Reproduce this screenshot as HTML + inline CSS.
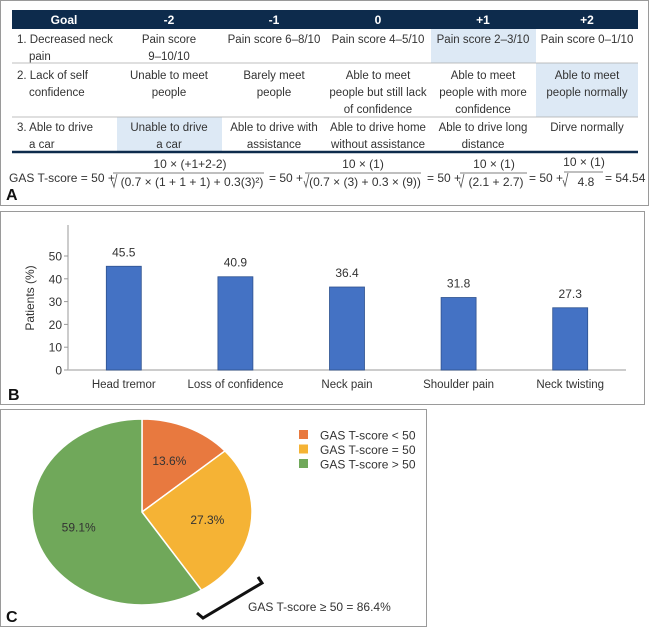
<!DOCTYPE html>
<html><head><meta charset="utf-8"><style>
html,body{margin:0;padding:0;background:#fff;}
svg{display:block;font-family:"Liberation Sans",Arial,sans-serif;}
</style></head><body>
<svg id="fig" width="650" height="627" viewBox="0 0 650 627">
<!-- Panel A -->
<g>
<rect x="0.5" y="0.5" width="648" height="205" fill="#fff" stroke="#9a9a9a"/>
<rect x="12" y="10" width="626" height="19" fill="#0d2b4c"/>
<g font-size="12" font-weight="bold" fill="#fff" text-anchor="middle">
<text x="64" y="24">Goal</text><text x="169" y="24">-2</text><text x="274" y="24">-1</text><text x="378" y="24">0</text><text x="483" y="24">+1</text><text x="587" y="24">+2</text>
</g>
<rect x="431" y="29" width="105" height="34" fill="#dde9f5"/>
<rect x="536" y="63" width="102" height="54" fill="#dde9f5"/>
<rect x="117" y="117" width="105" height="35" fill="#dde9f5"/>
<line x1="12" y1="63" x2="638" y2="63" stroke="#aaa" stroke-width="0.8"/>
<line x1="12" y1="117" x2="638" y2="117" stroke="#aaa" stroke-width="0.8"/>
<line x1="12" y1="152" x2="638" y2="152" stroke="#0d2b4c" stroke-width="2.5"/>
<g font-size="11.5" fill="#333">
<text x="17" y="43">1. Decreased neck</text><text x="29" y="60">pain</text>
<text x="17" y="79">2. Lack of self</text><text x="29" y="96">confidence</text>
<text x="17" y="131">3. Able to drive</text><text x="29" y="148">a car</text>
<g text-anchor="middle">
<text x="169" y="43">Pain score</text><text x="169" y="60">9–10/10</text>
<text x="274" y="43">Pain score 6–8/10</text>
<text x="378" y="43">Pain score 4–5/10</text>
<text x="483" y="43">Pain score 2–3/10</text>
<text x="587" y="43">Pain score 0–1/10</text>
<text x="169" y="79">Unable to meet</text><text x="169" y="96">people</text>
<text x="274" y="79">Barely meet</text><text x="274" y="96">people</text>
<text x="378" y="79">Able to meet</text><text x="378" y="96">people but still lack</text><text x="378" y="113">of confidence</text>
<text x="483" y="79">Able to meet</text><text x="483" y="96">people with more</text><text x="483" y="113">confidence</text>
<text x="587" y="79">Able to meet</text><text x="587" y="96">people normally</text>
<text x="169" y="131">Unable to drive</text><text x="169" y="148">a car</text>
<text x="274" y="131">Able to drive with</text><text x="274" y="148">assistance</text>
<text x="378" y="131">Able to drive home</text><text x="378" y="148">without assistance</text>
<text x="483" y="131">Able to drive long</text><text x="483" y="148">distance</text>
<text x="587" y="131">Dirve normally</text>
</g></g>
<g font-size="12" fill="#333">
<text x="9" y="182">GAS T-score = 50 +</text>
<text x="190" y="168" text-anchor="middle">10 ×  (+1+2-2)</text>
<line x1="113" y1="173" x2="264" y2="173" stroke="#555" stroke-width="0.8"/>
<path d="M112,181 L114,187 L117,174" fill="none" stroke="#555" stroke-width="0.8"/>
<text x="192" y="186" text-anchor="middle">(0.7 ×  (1 + 1 + 1) + 0.3(3)²)</text>
<text x="269" y="182">= 50 +</text>
<text x="363" y="168" text-anchor="middle">10 × (1)</text>
<line x1="305" y1="173" x2="421" y2="173" stroke="#555" stroke-width="0.8"/>
<path d="M304,181 L306,187 L309,174" fill="none" stroke="#555" stroke-width="0.8"/>
<text x="365" y="186" text-anchor="middle">(0.7 × (3) + 0.3 × (9))</text>
<text x="427" y="182">= 50 +</text>
<text x="494" y="168" text-anchor="middle">10 × (1)</text>
<line x1="460" y1="173" x2="527" y2="173" stroke="#555" stroke-width="0.8"/>
<path d="M459,181 L461,187 L464,174" fill="none" stroke="#555" stroke-width="0.8"/>
<text x="496" y="186" text-anchor="middle">(2.1  + 2.7)</text>
<text x="529" y="182">= 50 +</text>
<text x="584" y="166" text-anchor="middle">10 × (1)</text>
<line x1="564" y1="172" x2="603" y2="172" stroke="#555" stroke-width="0.8"/>
<path d="M563,180 L565,186 L568,173" fill="none" stroke="#555" stroke-width="0.8"/>
<text x="586" y="186" text-anchor="middle">4.8</text>
<text x="605" y="182">= 54.54</text>
</g>
<text x="6" y="200" font-size="16" font-weight="bold" fill="#111">A</text>
</g>

<!-- Panel B -->
<g>
<rect x="0.5" y="211.5" width="644" height="193" fill="#fff" stroke="#9a9a9a"/>
<g id="barchart"></g>
<text x="8" y="400" font-size="16" font-weight="bold" fill="#111">B</text>
</g>

<!-- Panel C -->
<g>
<rect x="0.5" y="409.5" width="426" height="217" fill="#fff" stroke="#9a9a9a"/>
<g id="pie"></g>
<g id="legend"></g>
<path d="M197,613 L203,618 L262,583 L258,577" fill="none" stroke="#111" stroke-width="3"/>
<text x="248" y="611" font-size="12" fill="#333">GAS T-score ≥ 50 = 86.4%</text>
<text x="6" y="622" font-size="16" font-weight="bold" fill="#111">C</text>
</g>
</svg>
<script>
const barCategories = ["Head tremor","Loss of confidence","Neck pain","Shoulder pain","Neck twisting"];
const barValues = [45.5,40.9,36.4,31.8,27.3];
const yTicks = [0,10,20,30,40,50];
const pieLabels = ["GAS T-score < 50","GAS T-score = 50","GAS T-score > 50"];
const pieValues = [13.6,27.3,59.1];

const NS="http://www.w3.org/2000/svg";
function mk(tag,attrs,parent){const e=document.createElementNS(NS,tag);for(const k in attrs)e.setAttribute(k,attrs[k]);parent.appendChild(e);return e;}

const bc=document.getElementById('barchart');
const x0=68,x1=626,yBase=370,yPer=2.28,axisTop=225;
const band=(x1-x0)/barCategories.length;
const xC=i=>x0+band*(i+0.5);
const yS=v=>yBase-v*yPer;
let ax=mk('line',{x1:x0,y1:axisTop,x2:x0,y2:yBase,stroke:'#999','stroke-width':1},bc);


let xa=mk('line',{x1:x0,y1:yBase,x2:x1,y2:yBase,stroke:'#bbb','stroke-width':1.5},bc);


yTicks.forEach(t=>{
  const tk=mk('line',{x1:x0-4,y1:yS(t),x2:x0,y2:yS(t),stroke:'#999'},bc);
  
  
  const tl=mk('text',{x:x0-6,y:yS(t)+4.5,'text-anchor':'end','font-size':12,fill:'#333'},bc);
  tl.textContent=t;
  
  
});
const yt=mk('text',{x:0,y:0,transform:'translate(34,298) rotate(-90)','text-anchor':'middle','font-size':12,fill:'#333'},bc);
yt.textContent='Patients (%)';


barValues.forEach((v,i)=>{
  const r=mk('rect',{x:xC(i)-17.5,y:yS(v),width:35,height:v*yPer,fill:'#4472c4',stroke:'#2f528f','stroke-width':0.8},bc);
  
  
  const vl=mk('text',{x:xC(i),y:yS(v)-10,'text-anchor':'middle','font-size':12,fill:'#333'},bc);
  vl.textContent=v.toFixed(1);
  
  
  const cl=mk('text',{x:xC(i),y:388,'text-anchor':'middle','font-size':11.5,fill:'#333'},bc);
  cl.textContent=barCategories[i];
  
  
});

const pie=document.getElementById('pie');
const cx=142,cy=512,rx=110,ry=93;
const colors=['#e8793f','#f5b335','#70a85a'];
const total=pieValues.reduce((a,b)=>a+b,0);
let acc=0;
const pt=a=>[cx+rx*Math.sin(a),cy-ry*Math.cos(a)];
pieValues.forEach((v,i)=>{
  const a0=acc/total*2*Math.PI; acc+=v; const a1=acc/total*2*Math.PI;
  const p0=pt(a0),p1=pt(a1); const large=(a1-a0)>Math.PI?1:0;
  const s=mk('path',{d:`M${cx},${cy} L${p0[0]},${p0[1]} A${rx},${ry} 0 ${large} 1 ${p1[0]},${p1[1]} Z`,fill:colors[i],stroke:'#fff','stroke-width':1.5},pie);
  
  
  const am=(a0+a1)/2;
  const lx=cx+rx*0.6*Math.sin(am), ly=cy-ry*0.6*Math.cos(am);
  const t=mk('text',{x:lx,y:ly+4,'text-anchor':'middle','font-size':12,fill:'#333'},pie);
  t.textContent=v.toFixed(1)+'%';
  
  
});
const lg=document.getElementById('legend');
pieLabels.forEach((l,i)=>{
  const y=435+i*14.5;
  const sq=mk('rect',{x:299,y:y-5,width:9,height:9,fill:colors[i]},lg);
  
  
  const t=mk('text',{x:320,y:y+4.5,'font-size':12,fill:'#333'},lg);
  t.textContent=l;
  
  
});
</script>
</body></html>
